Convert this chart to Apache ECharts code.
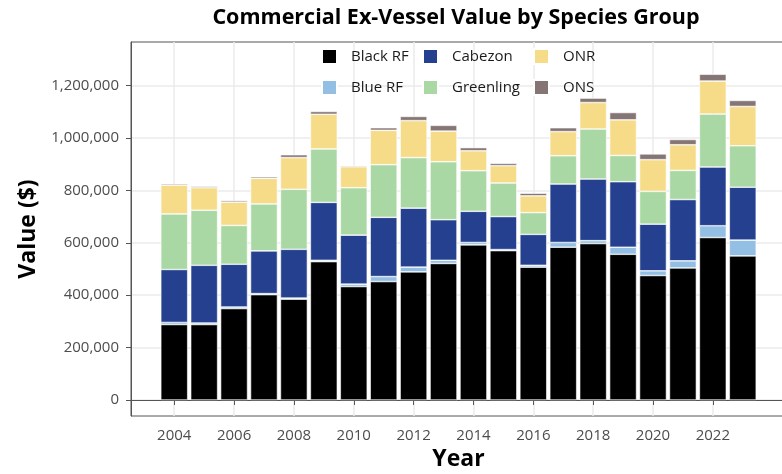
<!DOCTYPE html>
<html lang="en">
<head>
    <meta charset="UTF-8">
    <title>Commercial Ex-Vessel Value by Species Group</title>
    <style>
        html, body { margin: 0; padding: 0; background: #fff; }
        #main { width: 782px; height: 474px; }
    </style>
</head>
<body>
    <div id="main"></div>
    <script src="https://cdn.jsdelivr.net/npm/echarts@6/dist/echarts.min.js"></script>
    <script>
        // values ($)
        var years = ['2004', '2005', '2006', '2007', '2008', '2009', '2010', '2011', '2012', '2013',
                     '2014', '2015', '2016', '2017', '2018', '2019', '2020', '2021', '2022', '2023'];
        var blackRF = [288000, 288000, 349000, 402000, 385000, 528000, 433000, 452000, 489000, 521000,
                       592000, 570000, 507000, 583000, 597000, 556000, 475000, 504000, 620000, 550000];
        var blueRF = [8000, 6000, 6000, 4000, 4000, 5000, 9000, 19000, 18000, 12000,
                      9000, 4000, 7000, 18000, 11000, 27000, 18000, 27000, 45000, 60000];
        var cabezon = [202000, 220000, 163000, 163000, 186000, 221000, 187000, 226000, 225000, 155000,
                       119000, 126000, 118000, 223000, 235000, 250000, 178000, 234000, 224000, 202000];
        var greenling = [212000, 210000, 148000, 179000, 229000, 204000, 181000, 201000, 193000, 221000,
                         155000, 128000, 83000, 108000, 191000, 100000, 125000, 111000, 202000, 158000];
        var onr = [110000, 86000, 89000, 98000, 121000, 132000, 80000, 131000, 141000, 117000,
                   76000, 66000, 64000, 92000, 101000, 136000, 121000, 98000, 126000, 150000];
        var ons = [5000, 5000, 6000, 6000, 11000, 11000, 4000, 10000, 16000, 22000,
                   12000, 9000, 10000, 15000, 17000, 28000, 22000, 20000, 26000, 23000];

        var xTicks = [2004, 2006, 2008, 2010, 2012, 2014, 2016, 2018, 2020, 2022];
        var yTicks = [0, 200000, 400000, 600000, 800000, 1000000, 1200000];

        var groups = ['Black RF', 'Blue RF', 'Cabezon', 'Greenling', 'ONR', 'ONS'];
        var groupValues = [blackRF, blueRF, cabezon, greenling, onr, ons];
        var colors = ['#000000', '#92bfe3', '#24408e', '#a9d8a4', '#f6dc89', '#867575'];

        var font = 'Open Sans';
        var yMin = -61000, yMax = 1366000;

        // panel: x from 2002.555 to 2024.445 -> 655px, ~29.9px per year
        var pxYear = 655 / (2024.445 - 2002.555);
        var barGridLeft = 131 + (2003.5 - 2002.555) * pxYear;

        var series = groups.map(function (name, i) {
            return {
                name: name,
                type: 'bar',
                stack: 'total',
                xAxisIndex: 1,
                yAxisIndex: 1,
                barWidth: '90%',
                data: groupValues[i],
                itemStyle: {
                    color: colors[i],
                    borderColor: '#ffffff',
                    borderWidth: 0.6
                },
                emphasis: { disabled: true }
            };
        });

        function legendCol(left, names) {
            return {
                orient: 'vertical',
                left: left,
                top: 48,
                padding: 0,
                itemWidth: 15,
                itemHeight: 15,
                itemGap: 14,
                icon: 'rect',
                selectedMode: false,
                data: names,
                textStyle: {
                    fontFamily: font,
                    fontSize: 15,
                    color: '#1a1a1a',
                    padding: [0, 0, 0, 9]
                }
            };
        }

        var myChart = echarts.init(document.getElementById('main'));
        var option = {
            animation: false,
            color: colors,
            title: {
                text: 'Commercial Ex-Vessel Value by Species Group',
                left: 456,
                textAlign: 'center',
                top: 7,
                padding: 0,
                textStyle: {
                    fontFamily: font,
                    fontWeight: 'bold',
                    fontSize: 21.5,
                    color: '#000'
                }
            },
            legend: [
                legendCol(321, ['Black RF', 'Blue RF']),
                legendCol(422, ['Cabezon', 'Greenling']),
                legendCol(533, ['ONR', 'ONS'])
            ],
            grid: [
                {
                    left: 131,
                    top: 42,
                    width: 655,
                    height: 374,
                    show: true,
                    borderColor: '#555555',
                    borderWidth: 1,
                    outerBoundsMode: 'none'
                },
                {
                    left: barGridLeft,
                    top: 42,
                    width: pxYear * years.length,
                    height: 374,
                    outerBoundsMode: 'none'
                }
            ],
            xAxis: [
                {
                    type: 'value',
                    gridIndex: 0,
                    min: 2002.555,
                    max: 2024.445,
                    name: 'Year',
                    nameLocation: 'middle',
                    nameGap: 32,
                    nameTextStyle: {
                        fontFamily: font,
                        fontWeight: 'bold',
                        fontSize: 23,
                        color: '#000'
                    },
                    axisLine: { show: true, lineStyle: { color: '#555555', width: 1 } },
                    axisTick: { show: true, length: 5, lineStyle: { color: '#555555' }, customValues: xTicks },
                    axisLabel: {
                        customValues: xTicks,
                        margin: 12,
                        fontFamily: font,
                        fontSize: 15,
                        color: '#4d4d4d',
                        formatter: function (v) { return String(v); }
                    },
                    splitLine: { show: true, lineStyle: { color: '#ebebeb', width: 1.5 } }
                },
                {
                    type: 'category',
                    gridIndex: 1,
                    data: years,
                    boundaryGap: true,
                    show: false
                }
            ],
            yAxis: [
                {
                    type: 'value',
                    gridIndex: 0,
                    min: yMin,
                    max: yMax,
                    name: 'Value ($)',
                    nameLocation: 'middle',
                    nameGap: 87,
                    nameRotate: 90,
                    nameTextStyle: {
                        fontFamily: font,
                        fontWeight: 'bold',
                        fontSize: 23,
                        color: '#000'
                    },
                    axisLine: { show: true, lineStyle: { color: '#555555', width: 1 } },
                    axisTick: { show: true, length: 5, lineStyle: { color: '#555555' }, customValues: yTicks },
                    axisLabel: {
                        customValues: yTicks,
                        margin: 12,
                        fontFamily: font,
                        fontSize: 15,
                        color: '#4d4d4d',
                        formatter: function (v) { return v.toLocaleString('en-US'); }
                    },
                    splitLine: { show: true, lineStyle: { color: '#ebebeb', width: 1.5 } }
                },
                {
                    type: 'value',
                    gridIndex: 1,
                    min: yMin,
                    max: yMax,
                    show: false,
                    splitLine: { show: false }
                }
            ],
            series: series
        };
        myChart.setOption(option);
    </script>
</body>
</html>
